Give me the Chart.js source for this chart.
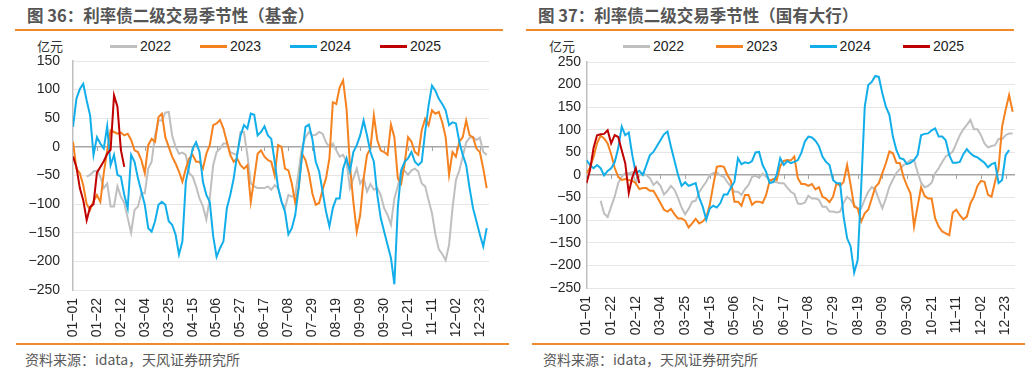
<!DOCTYPE html>
<html>
<head>
<meta charset="utf-8">
<script src="https://cdn.jsdelivr.net/npm/chart.js@4.4.1/dist/chart.umd.min.js"></script>
<style>
  body { margin: 0; background: #fff; }
  #page { position: relative; width: 1033px; height: 384px; overflow: hidden; font-family: "Liberation Sans", Arial, sans-serif; }
  .title { position: absolute; top: 4px; font: bold 16.5px/22px "Noto Sans CJK SC", sans-serif; color: #555; white-space: nowrap; }
  .rule { position: absolute; height: 2px; background: #EE8A2C; }
  .unit { position: absolute; top: 38px; font: 13px/16px "Noto Sans CJK SC", sans-serif; color: #333; }
  .legend-item { position: absolute; top: 38px; height: 16px; display: flex; align-items: center; font-size: 14px; color: #222; }
  .legend-item i { display: inline-block; width: 27px; height: 3px; margin-right: 3px; }
  .source { position: absolute; top: 349px; font: 14px/20px "Noto Sans CJK SC", sans-serif; color: #595959; white-space: nowrap; }
  canvas { position: absolute; }
</style>
</head>
<body>
<div id="page">
  <div class="title" style="left:27px">图 36：利率债二级交易季节性（基金）</div>
  <div class="title" style="left:538px">图 37：利率债二级交易季节性（国有大行）</div>
  <div class="rule" style="left:15px;top:29px;width:488px"></div>
  <div class="rule" style="left:526px;top:29px;width:488px"></div>
  <div class="unit" style="left:37px">亿元</div>
  <div class="unit" style="left:549px">亿元</div>
  <div id="legendFund"></div>
  <div id="legendBank"></div>
  <canvas id="fundChart" width="505" height="290" style="left:0;top:50px"></canvas>
  <canvas id="bankChart" width="518" height="288" style="left:515px;top:50px"></canvas>
  <div class="rule" style="left:16px;top:343px;width:493px"></div>
  <div class="rule" style="left:532px;top:343px;width:493px"></div>
  <div class="source" style="left:25px">资料来源：idata，天风证券研究所</div>
  <div class="source" style="left:543px">资料来源：idata，天风证券研究所</div>
</div>
<script>
// one value every 3 days, starting 01-01
const STEP = 3;
const tickLabels = ["01−01", "01−22", "02−12", "03−04", "03−25", "04−15", "05−06", "05−27", "06−17",
                    "07−08", "07−29", "08−19", "09−09", "09−30", "10−21", "11−11", "12−02", "12−23"];
const TICK_EVERY = 21;
const years = ["2022", "2023", "2024", "2025"];
const colors = ["#BFBFBF", "#F5821F", "#12AEEA", "#C00000"];

const fundYTicks = [150, 100, 50, 0, -50, -100, -150, -200, -250];
const bankYTicks = [250, 200, 150, 100, 50, 0, -50, -100, -150, -200, -250];

// 图36 基金
const fund2022 = [null, null, null, null, -52, -49, -43, -41, -52, -72,
  -64, -104, -104, -69, -87, -98, -124, -150, -110, -104,
  -81, -81, -38, -26, 20, 46, 46, 60, 61, 20,
  0, -12, -10, -14, -46, -52, -69, -90, -104, -127,
  -90, -32, -9, -3, 6, 6, -9, -12, -14, 26,
  26, -14, -64, -69, -72, -72, -72, -69, -75, -67,
  -72, -96, -107, -84, -87, -84, -43, 0, 17, 26,
  20, 21, 26, 23, 8, 0, 6, -6, -17, -14,
  -26, -72, -55, -38, -64, -55, -78, -65, -75, -72,
  -84, -107, -119, -136, -90, -69, -41, -42, -49, -41,
  -38, -43, -64, -69, -93, -116, -153, -179, -187, -198,
  -171, -107, -58, -41, -17, 8, 16, 17, 12, 16,
  -9, -14];
const fund2023 = [9, -38, -46, -67, -100, -110, -95, -84, -96, -46,
  -6, 29, 26, 23, 25, 20, 23, 12, -6, -9,
  -23, -46, 3, 14, 9, 52, 58, 17, 0, -17,
  -29, -43, -61, -38, -20, -14, -26, -26, -38, -12,
  3, 38, 41, 47, 32, 9, -14, -26, -20, -32,
  -38, -32, -96, -55, -12, -6, -17, -23, -26, -50,
  3, 0, -38, -41, -64, -98, -72, -12, -23, -46,
  -81, -101, -98, -75, -55, -20, 78, 75, 104, 116,
  67, -32, -96, -148, -119, -55, -14, -3, 55, 12,
  -6, -9, -14, 39, 17, -55, -64, -29, 17, 9,
  -9, -14, 29, 49, 38, 64, 58, 61, 43, 17,
  -49, -9, -17, 9, 17, 46, 20, 17, -3, -9,
  -38, -72];
const fund2024 = [35, 84, 101, 110, 81, 55, -14, 17, 6, -3,
  36, -32, -14, -49, -52, -84, -107, -14, -26, -55,
  -78, -101, -142, -148, -130, -101, -96, -101, -130, -136,
  -153, -188, -165, -61, -32, -3, 8, -9, -61, -84,
  -96, -156, -192, -177, -165, -107, -84, -55, -14, 20,
  38, 32, 58, 56, 20, 26, 36, 20, 14, -26,
  -72, -96, -113, -153, -142, -119, -72, -14, 35, 39,
  14, -26, -43, -78, -113, -139, -107, -90, -90, -38,
  -20, -43, -9, 3, 20, 46, 20, -9, -26, -84,
  -124, -148, -171, -194, -240, -107, -41, -26, -20, -9,
  -26, -32, -26, 26, 72, 107, 98, 84, 75, 64,
  38, 43, 41, 9, -14, -32, -72, -107, -130, -153,
  -174, -142];
const fund2025 = [-17, -35, -72, -93, -128, -105, -100, -45, -35, -25,
  -12, -5, 90, 70, -5, -35];

// 图37 国有大行
const bank2022 = [null, null, null, null, -57, -85, -93, -70, -48, -18,
  -4, 4, 4, 6, -18, -1, 4, 0, -7, -22,
  -15, -24, -43, -35, -24, -33, -51, -72, -87, -75,
  -59, -57, -38, -26, -15, 0, 4, 6, -1, -4,
  -16, -26, -37, -37, -44, -31, -22, -4, -2, -6,
  3, -4, -11, -15, -16, -18, -18, -28, -37, -42,
  -63, -64, -61, -46, -52, -52, -55, -70, -70, -81,
  -81, -83, -81, -61, -48, -55, -66, -74, -74, -54,
  -37, -27, -32, -54, -74, -52, -26, -10, 5, 13,
  22, 26, 33, 33, 7, -17, -27, -24, -17, 4,
  15, 29, 41, 46, 52, 70, 88, 101, 111, 122,
  101, 101, 88, 70, 61, 64, 66, 80, 79, 88,
  92, 92];
const bank2023 = [4, 16, 40, 70, 87, 81, 70, 46, 16, -4,
  -11, -9, -11, -13, -18, -31, -29, -29, -35, -35,
  -48, -62, -77, -81, -75, -87, -96, -96, -101, -116,
  -107, -97, -107, -103, -94, -66, -22, 18, 20, 18,
  0, -13, -59, -59, -68, -44, -44, -66, -59, -59,
  -62, -44, -13, -9, -11, 20, 31, 33, 32, 41,
  -7, -20, -20, -24, -20, -32, -27, -48, -52, -60,
  -48, -18, -24, -15, 22, -22, -70, -74, -103, -85,
  -77, -52, -27, -18, 4, 26, 52, 48, 27, 26,
  -4, -24, -41, -114, -70, -27, -46, -52, -52, -96,
  -114, -125, -129, -133, -83, -77, -89, -98, -92, -63,
  -48, -24, -13, -15, -44, -48, -15, 15, 107, 144,
  177, 140];
const bank2024 = [33, 22, 15, 22, 15, -1, 9, 15, 28, 59,
  107, 88, 94, 44, 4, 9, 0, 22, 44, 51,
  64, 77, 90, 96, 62, 31, 0, -24, -16, -24,
  -21, -18, -50, -70, -99, -74, -68, -72, -62, -43,
  -43, -28, -15, 37, 24, 28, 26, 31, 50, 51,
  22, 7, -18, -16, 0, 37, 22, 31, 26, 29,
  33, 49, 74, 85, 83, 76, 64, 41, 29, 22,
  -11, -18, -18, -92, -140, -158, -216, -188, -26, 151,
  199, 206, 219, 217, 181, 151, 133, 85, 55, 37,
  35, 24, 27, 33, 44, 88, 91, 92, 99, 103,
  85, 85, 77, 44, 27, 27, 29, 46, 57, 48,
  42, 39, 33, 27, 17, 24, 27, -18, -11, 44,
  55];
const bank2025 = [-18, 11, 60, 88, 90, 91, 99, 70, 88, 84,
  55, 26, -40, -5, 15, -18];

const FONT = "'Liberation Sans', Arial, sans-serif";

function toPoints(values) {
    return values.map((v, i) => ({ x: i * STEP, y: v }));
}

// HTML legend, one row per chart
function buildLegend(id, left, gap) {
    const box = document.getElementById(id);
    years.forEach((year, i) => {
        const item = document.createElement("div");
        item.className = "legend-item";
        item.style.left = (left + gap * i) + "px";
        item.innerHTML = `<i style="background:${colors[i]}"></i>${year}`;
        box.appendChild(item);
    });
}

// small tick marks sitting on the zero line
const zeroTicks = {
    id: "zeroTicks",
    beforeDatasetsDraw(chart) {
        const { ctx, scales: { x, y } } = chart;
        const y0 = Math.round(y.getPixelForValue(0));
        ctx.save();
        ctx.strokeStyle = "#A6A6A6";
        ctx.lineWidth = 1;
        x.ticks.forEach(t => {
            const px = Math.round(x.getPixelForValue(t.value)) + 0.5;
            ctx.beginPath();
            ctx.moveTo(px, y0);
            ctx.lineTo(px, y0 + 4);
            ctx.stroke();
        });
        ctx.restore();
    }
};

function makeChart(id, series, yTicks, yWidth, yPad, padding) {
    return new Chart(document.getElementById(id), {
        type: "line",
        data: {
            datasets: series.map((data, i) => ({
                label: years[i],
                data: toPoints(data),
                borderColor: colors[i],
                backgroundColor: colors[i],
                borderWidth: 2,
                pointRadius: 0,
                tension: 0,
                order: 3 - i
            }))
        },
        options: {
            responsive: false,
            animation: false,
            layout: { padding: padding },
            plugins: {
                legend: { display: false },
                tooltip: { enabled: false }
            },
            scales: {
                x: {
                    type: "linear",
                    min: 0,
                    max: 365,
                    grid: { display: false, drawTicks: false },
                    border: { display: false },
                    afterBuildTicks: s => { s.ticks = tickLabels.map((_, i) => ({ value: i * TICK_EVERY })); },
                    afterFit: s => { s.height = 50; },
                    ticks: {
                        autoSkip: false,
                        minRotation: 90,
                        maxRotation: 90,
                        padding: 8,
                        color: "#262626",
                        font: { family: FONT, size: 14 },
                        callback: (v, i) => tickLabels[i]
                    }
                },
                y: {
                    min: Math.min(...yTicks),
                    max: Math.max(...yTicks),
                    afterBuildTicks: s => { s.ticks = yTicks.map(v => ({ value: v })); },
                    // fixed axis width; tick padding should not push the plot down
                    afterFit: s => { s.width = yWidth; s.paddingTop = 0; s.paddingBottom = 0; },
                    grid: {
                        drawTicks: false,
                        color: c => c.tick && c.tick.value === 0 ? "#A6A6A6" : "#E6E6E6",
                        lineWidth: c => c.tick && c.tick.value === 0 ? 1.5 : 1
                    },
                    border: { color: "#BFBFBF", width: 1.5 },
                    ticks: {
                        padding: yPad,
                        color: "#262626",
                        font: { family: FONT, size: 14 },
                        callback: v => String(v).replace("-", "−")
                    }
                }
            }
        },
        plugins: [zeroTicks]
    });
}

buildLegend("legendFund", 110, 90);
buildLegend("legendBank", 623, 93.3);

makeChart("fundChart", [fund2022, fund2023, fund2024, fund2025], fundYTicks, 73, 13,
    { top: 11, right: 16, left: 0, bottom: 0 });
makeChart("bankChart", [bank2022, bank2023, bank2024, bank2025], bankYTicks, 71.5, 5.5,
    { top: 12, right: 18, left: 0, bottom: 0 });
</script>
</body>
</html>
